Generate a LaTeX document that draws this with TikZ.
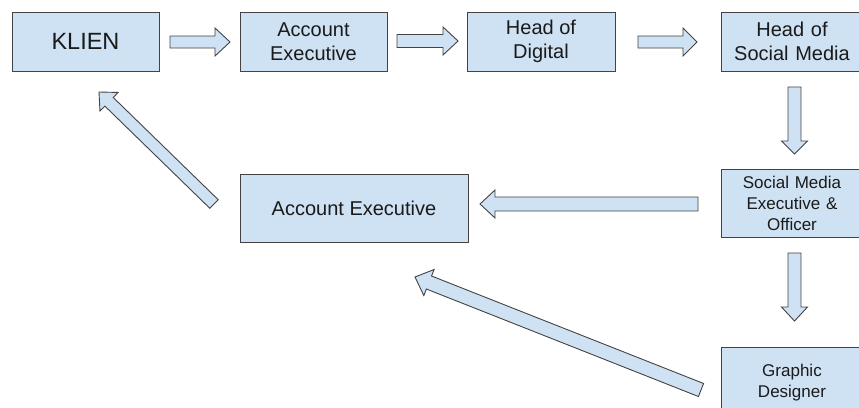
\documentclass[tikz,border=0pt]{standalone}
\usepackage{fontspec}
\setmainfont{Liberation Sans}
\usetikzlibrary{calc}
\definecolor{boxfill}{HTML}{CFE2F3}
\definecolor{boxline}{HTML}{434343}
\definecolor{txt}{HTML}{1A1A1A}
\tikzset{
  box/.style={draw=boxline, fill=boxfill, line width=1pt, rectangle, align=center,
    inner sep=0pt, text=txt, font=\fontsize{20}{23.5}\selectfont},
  smallbox/.style={box, font=\fontsize{17}{21}\selectfont},
  blockarr/.style={draw=boxline, fill=boxfill, line width=0.9pt, line join=miter}
}
% #1 tail, #2 tip, #3 shaft half width, #4 head half width, #5 head length
\newcommand{\blkarrow}[5]{%
  \coordinate (hb) at ($(#2)!#5!(#1)$);
  \draw[blockarr] ($(#1)!#3!90:(#2)$) -- ($(hb)!#3!-90:(#1)$) -- ($(hb)!#4!-90:(#1)$)
    -- (#2) -- ($(hb)!#4!90:(#1)$) -- ($(hb)!#3!90:(#1)$) -- ($(#1)!#3!-90:(#2)$) -- cycle;
}
\begin{document}
\begin{tikzpicture}[x=1pt,y=-1pt]
\useasboundingbox (0,0) rectangle (859,407);
\fill[white] (0,0) rectangle (859,407);
\clip (0,0) rectangle (859,407);

\node[box, minimum width=147pt, minimum height=59pt, font=\fontsize{23.5}{27}\selectfont] (klien) at (85.5,41.5) {KLIEN};
\node[box, minimum width=147pt, minimum height=59pt] (ae1) at (313.5,41.5) {Account\\Executive};
\node[box, minimum width=148pt, minimum height=59pt] (hod) at (541,41.5) {Head of\\Digital};
\node[box, minimum width=146pt, minimum height=59pt, text width=142pt] (hosm) at (794,41.5) {\hspace*{-4pt}Head of\\\hspace*{-4pt}Social Media};
\node[smallbox, minimum width=146pt, minimum height=68pt, text width=142pt] (sme) at (794,203.5) {\hspace*{-4pt}Social Media\\\hspace*{-4pt}Executive \&\\\hspace*{-4pt}Officer};
\node[smallbox, minimum width=146pt, minimum height=72pt, text width=142pt] (gd) at (794,383) {\hspace*{-4pt}Graphic\\\hspace*{-4pt}Designer};
\node[box, minimum width=228pt, minimum height=68pt] (ae2) at (354,208) {Account Executive};

% arrow end points
\coordinate (a1s) at (170,42);   \coordinate (a1e) at (230,42);
\coordinate (a2s) at (397,41);   \coordinate (a2e) at (458,41);
\coordinate (a3s) at (638,42);   \coordinate (a3e) at (697,42);
\coordinate (a4s) at (794.5,87); \coordinate (a4e) at (794.5,154);
\coordinate (a5s) at (794.5,253);\coordinate (a5e) at (794.5,321);
\coordinate (a6s) at (698,204);  \coordinate (a6e) at (480,204);
\coordinate (a7s) at (214,204);  \coordinate (a7e) at (99,92);
\coordinate (a8s) at (701,390);  \coordinate (a8e) at (415,277);

\blkarrow{a1s}{a1e}{6pt}{14pt}{15pt}
\blkarrow{a2s}{a2e}{6.5pt}{14pt}{15pt}
\blkarrow{a3s}{a3e}{6pt}{14pt}{14pt}
\blkarrow{a4s}{a4e}{6.5pt}{13pt}{13pt}
\blkarrow{a5s}{a5e}{6.5pt}{13pt}{14pt}
\blkarrow{a6s}{a6e}{7pt}{14pt}{15pt}
\blkarrow{a7s}{a7e}{6pt}{13pt}{14pt}
\blkarrow{a8s}{a8e}{7pt}{14pt}{15pt}
\end{tikzpicture}
\end{document}
